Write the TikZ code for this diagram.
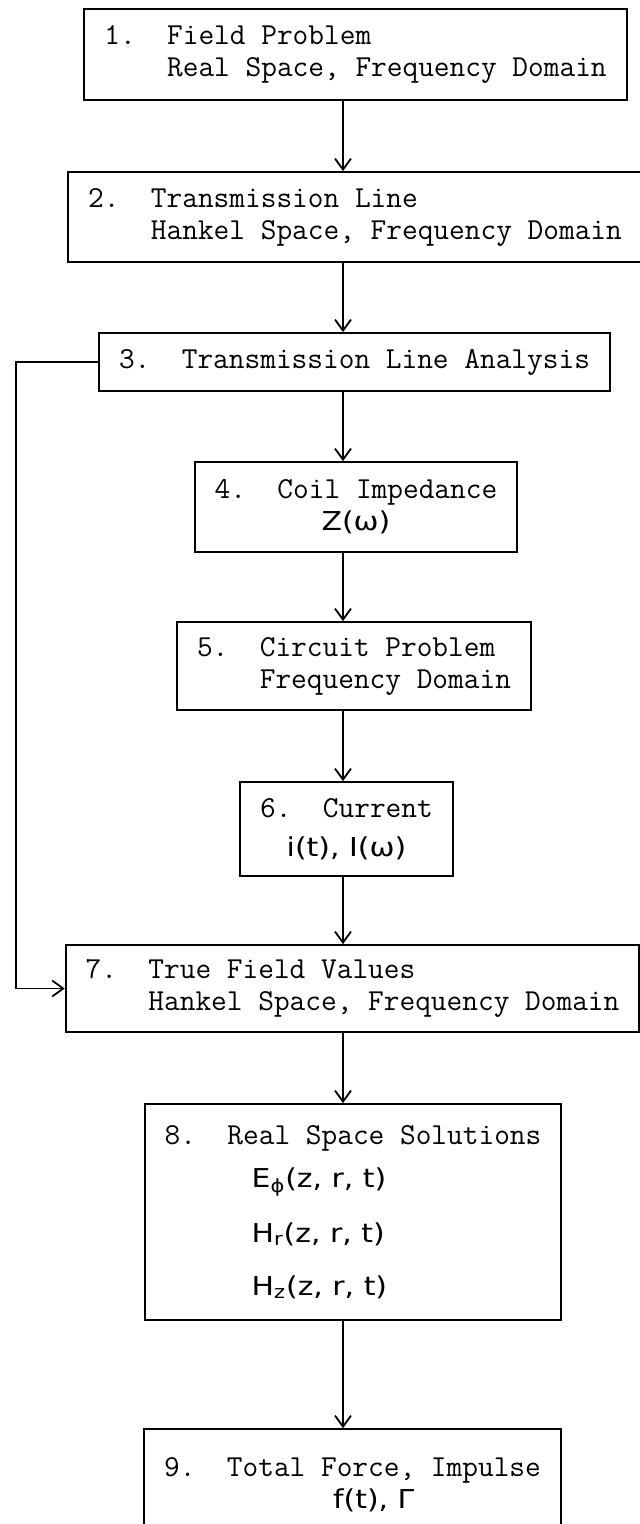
\documentclass[tikz,border=0pt]{standalone}
\usepackage{fontspec}
\newfontfamily\hand[FakeStretch=1.15]{DejaVu Sans}
\usetikzlibrary{arrows.meta}

\tikzset{
  blk/.style={draw, line width=0.9pt, font=\ttfamily\fontsize{15.24pt}{16pt}\selectfont,
    align=left, inner xsep=10pt, inner ysep=0pt},
  flow/.style={line width=0.9pt, -{Straight Barb[length=5.5pt,width=8pt]}}
}
\newcommand{\fml}[1]{{\hand\fontsize{13pt}{16pt}\selectfont #1}}

\begin{document}
\begin{tikzpicture}[x=0.5pt,y=-0.5pt]
\useasboundingbox (0,0) rectangle (640,1524);
\fill[white] (0,0) rectangle (640,1524);
\clip (0,0) rectangle (640,1524);

\coordinate (spine) at (343,0);
\coordinate (back) at (16,0);

\node[blk, minimum height=45.5pt] (b1) at (355.5,54.5)
  {1.~~Field Problem\\\phantom{1.~~}Real Space, Frequency Domain};
\node[blk, minimum height=45pt] (b2) at (355,217)
  {2.~~Transmission Line\\\phantom{2.~~}Hankel Space, Frequency Domain};
\node[blk, minimum height=29pt] (b3) at (354.5,362)
  {3.~~Transmission Line Analysis};
\node[blk, align=center, minimum height=45pt] (b4) at (356,507)
  {4.~~Coil Impedance\\\fml{Z(ω)}};
\node[blk, minimum height=44pt] (b5) at (354,666)
  {5.~~Circuit Problem\\\phantom{5.~~}Frequency Domain};
\node[blk, align=center, minimum height=47pt] (b6) at (346.5,829)
  {6.~~Current\\[3.5pt]\fml{i(t), I(ω)}};
\node[blk, minimum height=43.5pt] (b7) at (352.5,988.5)
  {7.~~True Field Values\\\phantom{7.~~}Hankel Space, Frequency Domain};
\node[blk, minimum height=108pt] (b8) at (353,1212)
  {8.~~Real Space Solutions\\[5.5pt]
   \hspace*{43.5pt}\fml{E\textsubscript{ϕ}(z, r, t)}\\[11.5pt]
   \hspace*{43.5pt}\fml{H\textsubscript{r}(z, r, t)}\\[10.5pt]
   \hspace*{43.5pt}\fml{H\textsubscript{z}(z, r, t)}};
\node[blk, minimum height=56pt] (b9) at (352.5,1485)
  {9.~~Total Force, Impulse\\\hspace*{84.5pt}\fml{f(t), Γ}};

% main chain
\draw[flow] (b1.south -| spine) -- (b2.north -| spine);
\draw[flow] (b2.south -| spine) -- (b3.north -| spine);
\draw[flow] (b3.south -| spine) -- (b4.north -| spine);
\draw[flow] (b4.south -| spine) -- (b5.north -| spine);
\draw[flow] (b5.south -| spine) -- (b6.north -| spine);
\draw[flow] (b6.south -| spine) -- (b7.north -| spine);
\draw[flow] (b7.south -| spine) -- (b8.north -| spine);
\draw[flow] (b8.south -| spine) -- (b9.north -| spine);

% bypass from 3 to 7
\draw[flow] (b3.west) -- (b3.west -| back) -- (b7.west -| back) -- (b7.west);

\end{tikzpicture}
\end{document}
